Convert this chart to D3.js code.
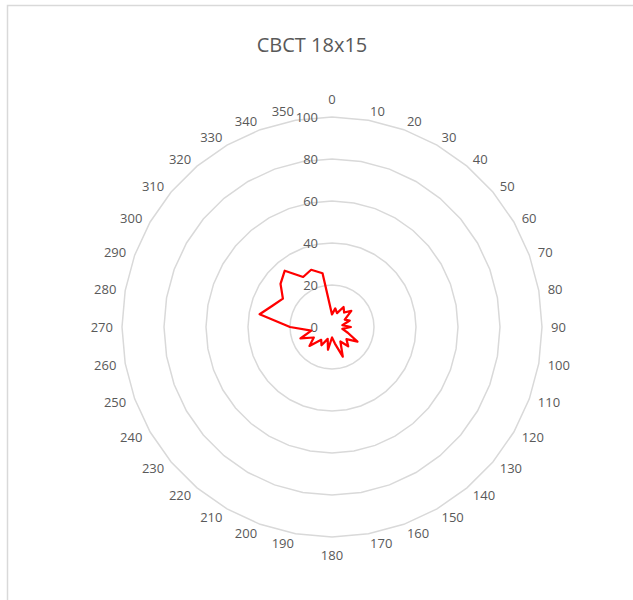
<!DOCTYPE html>
<html>
<head>
<meta charset="utf-8">
<script src="https://cdn.jsdelivr.net/npm/d3@7"></script>
<style>
  html, body { margin: 0; padding: 0; background: #fff; }
  svg { display: block; }
</style>
</head>
<body>
<svg id="chart" width="633" height="600"></svg>
<script>
const title = "CBCT 18x15";
const categories = ["0","10","20","30","40","50","60","70","80","90","100","110","120","130","140","150","160","170",
                    "180","190","200","210","220","230","240","250","260","270","280","290","300","310","320","330","340","350"];
const values = [6, 9, 7, 11, 9, 12, 7, 9, 5, 9, 5, 8, 14, 9, 12, 8, 15, 8,
                5, 11, 6, 10, 8, 14, 10, 16, 10, 20, 35, 30, 27, 32, 35, 27.5, 29, 26];
const radialTicks = [0, 20, 40, 60, 80, 100];

const svg = d3.select("#chart");
const cx = 332, cy = 327, R = 210;
const font = "'Open Sans', 'Segoe UI', sans-serif";
const textColor = "#595959";
const gridColor = "#d9d9d9";

// chart border
svg.append("rect")
  .attr("x", 7.5).attr("y", 5.5).attr("width", 800).attr("height", 800)
  .attr("fill", "none").attr("stroke", gridColor).attr("stroke-width", 1.5);

// title
svg.append("text")
  .attr("x", 312).attr("y", 47)
  .attr("text-anchor", "middle").attr("dominant-baseline", "middle")
  .attr("font-family", font).attr("font-size", 20)
  .attr("fill", textColor).text(title);

const r = d3.scaleLinear().domain([0, 100]).range([0, R]);
const angle = d3.scalePoint().domain(categories).range([0, 2 * Math.PI * (categories.length - 1) / categories.length]);

const g = svg.append("g").attr("transform", `translate(${cx},${cy})`);

// grid rings (polygons)
const ringLine = d3.lineRadial().curve(d3.curveLinearClosed);
radialTicks.filter(t => t > 0).forEach(t => {
  g.append("path")
    .attr("d", ringLine(categories.map(c => [angle(c), r(t)])))
    .attr("fill", "none").attr("stroke", gridColor).attr("stroke-width", 1.5);
});

// radial tick labels
radialTicks.forEach(t => {
  g.append("text")
    .attr("x", -14).attr("y", -r(t))
    .attr("text-anchor", "end").attr("dominant-baseline", "central")
    .attr("font-family", font).attr("font-size", 13)
    .attr("fill", textColor).text(t);
});

// category labels
categories.forEach(c => {
  const a = angle(c);
  const s = Math.sin(a), co = Math.cos(a);
  let anchor = "middle", rr = 219;
  if (Math.abs(s) < 1e-6) { rr = 228; }
  else if (s > 0) anchor = "start";
  else anchor = "end";
  g.append("text")
    .attr("x", rr * s).attr("y", -rr * co)
    .attr("text-anchor", anchor).attr("dominant-baseline", "central")
    .attr("font-family", font).attr("font-size", 13)
    .attr("fill", textColor).text(c);
});

// data line
const dataLine = d3.lineRadial().curve(d3.curveLinearClosed);
g.append("path")
  .attr("d", dataLine(categories.map((c, i) => [angle(c), r(values[i])])))
  .attr("fill", "none").attr("stroke", "#ff0000").attr("stroke-width", 2.25)
  .attr("stroke-linejoin", "round");
</script>
</body>
</html>
